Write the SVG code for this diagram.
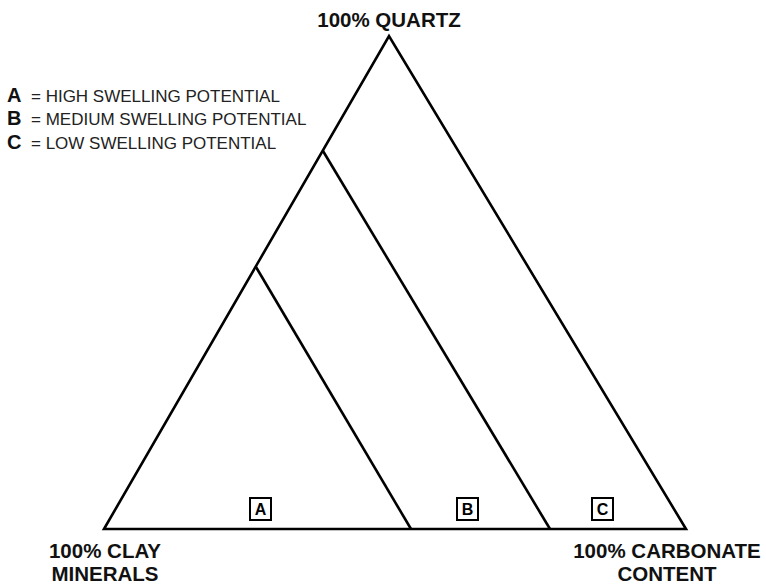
<svg xmlns="http://www.w3.org/2000/svg" width="766" height="586" viewBox="0 0 766 586">
<style>
.edge{fill:none;stroke:#000;stroke-width:2.6;stroke-linejoin:miter}
.lbl{font-family:"Liberation Sans",Arial,sans-serif;font-weight:bold;font-size:20.5px;fill:#111}
.leg{font-family:"Liberation Sans",Arial,sans-serif;font-size:17px;fill:#222}
.legk{font-family:"Liberation Sans",Arial,sans-serif;font-weight:bold;font-size:20px;fill:#111}
.box{fill:#fff;stroke:#000;stroke-width:2}
.boxt{font-family:"Liberation Sans",Arial,sans-serif;font-weight:bold;font-size:16px;fill:#000;text-anchor:middle}
</style>
<rect width="766" height="586" fill="#fff"/>
<g id="legend">
<text class="legk" x="7" y="102">A</text><text class="leg" x="31" y="102">= HIGH SWELLING POTENTIAL</text>
<text class="legk" x="7" y="125">B</text><text class="leg" x="31" y="125">= MEDIUM SWELLING POTENTIAL</text>
<text class="legk" x="7" y="149">C</text><text class="leg" x="31" y="149">= LOW SWELLING POTENTIAL</text>
</g>
<g id="connectors">
<path class="edge" d="M104,529 L389,36 L686,529 Z"/>
<path class="edge" d="M323,151 L550,529"/>
<path class="edge" d="M256,267 L411,529"/>
</g>
<g id="quartz"><text class="lbl" x="389" y="27" text-anchor="middle">100% QUARTZ</text></g>
<g id="clay"><text class="lbl" x="105" y="558" text-anchor="middle">100% CLAY</text><text class="lbl" x="105" y="581" text-anchor="middle">MINERALS</text></g>
<g id="carbonate"><text class="lbl" x="667" y="558" text-anchor="middle">100% CARBONATE</text><text class="lbl" x="667" y="581" text-anchor="middle">CONTENT</text></g>
<g id="zoneA"><rect class="box" x="250" y="498" width="21" height="22"/><text class="boxt" x="260.5" y="515">A</text></g>
<g id="zoneB"><rect class="box" x="457" y="498" width="21" height="22"/><text class="boxt" x="467.5" y="515">B</text></g>
<g id="zoneC"><rect class="box" x="592" y="498" width="21" height="22"/><text class="boxt" x="602.5" y="515">C</text></g>
</svg>
